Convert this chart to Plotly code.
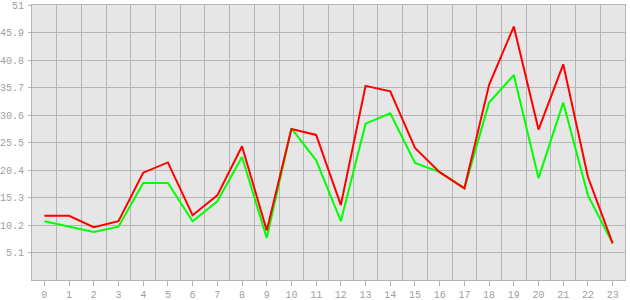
import plotly.graph_objects as go

hours = list(range(24))
red_vals = [11.9, 11.9, 9.8, 10.9, 19.9, 21.8, 12.0, 15.7, 24.8, 9.2, 28.0, 26.9,
            13.9, 36.0, 35.0, 24.5, 20.0, 17.0, 36.2, 47.0, 27.9, 40.0, 19.1, 6.8]
green_vals = [10.9, 9.9, 8.9, 9.9, 18.0, 18.0, 10.9, 14.6, 22.8, 7.8, 28.1, 22.2,
              10.9, 29.0, 30.9, 21.7, 20.0, 17.0, 32.9, 38.0, 18.9, 32.9, 15.7, 6.8]
y_ticks = [5.1, 10.2, 15.3, 20.4, 25.5, 30.6, 35.7, 40.8, 45.9, 51]
y_labels = ["5.1", "10.2", "15.3", "20.4", "25.5", "30.6", "35.7", "40.8", "45.9", "51"]

grid = "#b4b4b4"
fig = go.Figure()
fig.add_trace(go.Scatter(x=hours, y=green_vals, mode="lines",
                         line=dict(color="#00ff00", width=2), showlegend=False))
fig.add_trace(go.Scatter(x=hours, y=red_vals, mode="lines",
                         line=dict(color="#ff0000", width=2), showlegend=False))

fig.update_layout(
    width=630, height=300,
    margin=dict(l=32, r=5, t=5, b=20, autoexpand=False),
    paper_bgcolor="white", plot_bgcolor="#e6e6e6",
    font=dict(family="Liberation Mono", size=10, color="#a0a0a0"),
    xaxis=dict(range=[-0.5, 23.5], tickmode="array", tickvals=hours,
               ticktext=[str(h) for h in hours],
               showgrid=False, zeroline=False, automargin=False,
               ticks="outside", ticklen=5, tickcolor=grid,
               showline=True, linecolor=grid, linewidth=1, mirror=True,
               minor=dict(tick0=0.5, dtick=1, showgrid=True, gridcolor=grid,
                          gridwidth=1, ticklen=0),
               fixedrange=True),
    yaxis=dict(range=[0, 51], tickmode="array", tickvals=y_ticks, ticktext=y_labels,
               showgrid=True, gridcolor=grid, gridwidth=1, zeroline=False,
               automargin=False,
               ticks="outside", ticklen=3, tickcolor=grid,
               showline=True, linecolor=grid, linewidth=1, mirror=True,
               ticklabeloverflow="allow", ticklabelstandoff=2,
               fixedrange=True),
)
fig.write_html("out.html")
